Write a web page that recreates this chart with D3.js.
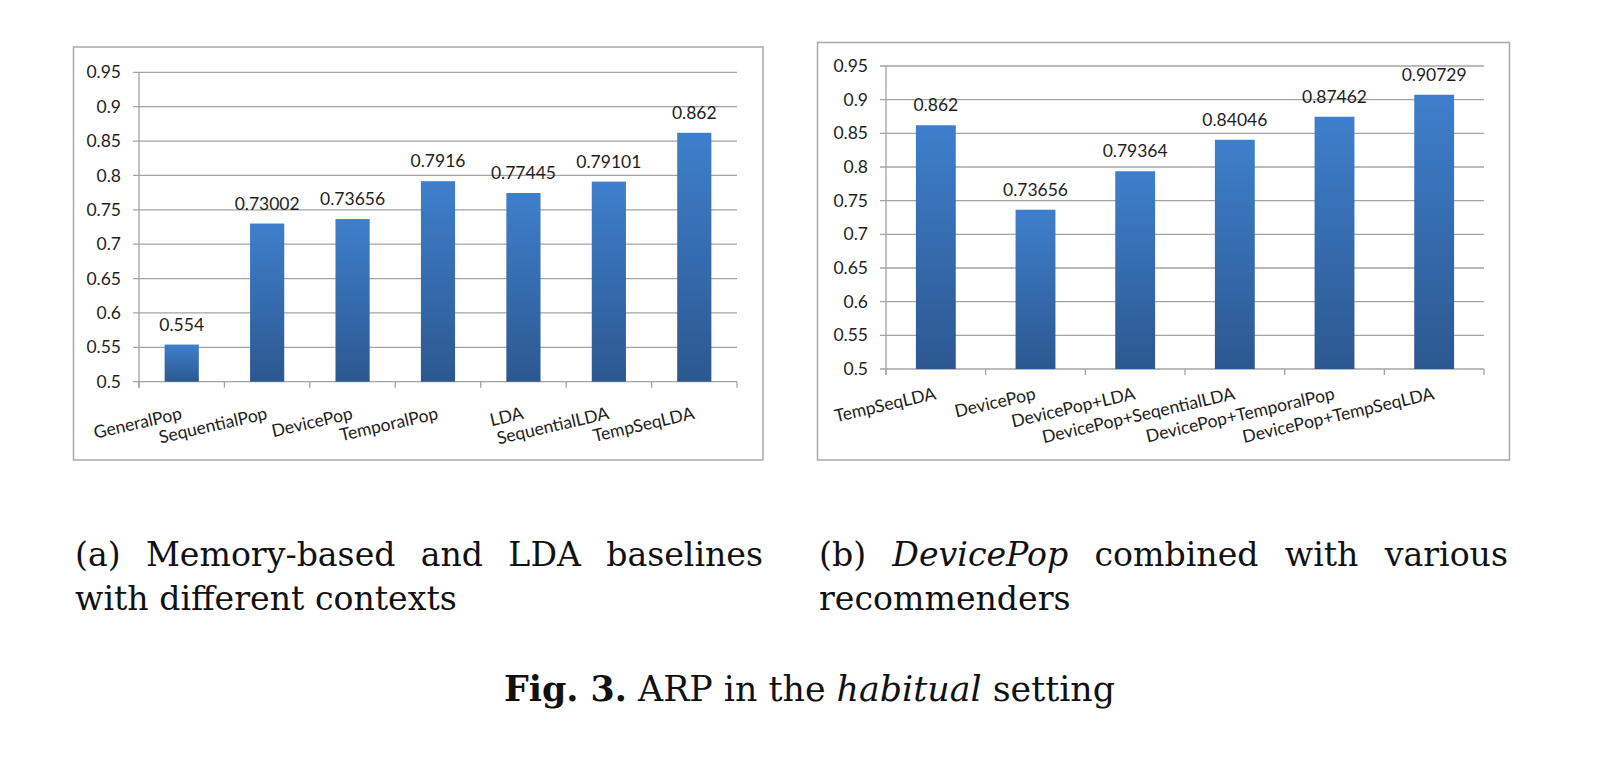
<!DOCTYPE html>
<html>
<head>
<meta charset="utf-8">
<script src="https://cdn.jsdelivr.net/npm/d3@7"></script>
<style>
  html, body { margin: 0; padding: 0; background: #ffffff; }
  svg { display: block; }
</style>
</head>
<body>
<svg id="chart" width="1600" height="757"></svg>
<script>
// ---------------- data ----------------
const categoriesA = ["GeneralPop", "SequentialPop", "DevicePop", "TemporalPop", "LDA", "SequentialLDA", "TempSeqLDA"];
const valuesA = [0.554, 0.73002, 0.73656, 0.7916, 0.77445, 0.79101, 0.862];
const valueLabelsA = ["0.554", "0.73002", "0.73656", "0.7916", "0.77445", "0.79101", "0.862"];

const categoriesB = ["TempSeqLDA", "DevicePop", "DevicePop+LDA", "DevicePop+SeqentialLDA", "DevicePop+TemporalPop", "DevicePop+TempSeqLDA"];
const valuesB = [0.862, 0.73656, 0.79364, 0.84046, 0.87462, 0.90729];
const valueLabelsB = ["0.862", "0.73656", "0.79364", "0.84046", "0.87462", "0.90729"];

const yTickValues = [0.5, 0.55, 0.6, 0.65, 0.7, 0.75, 0.8, 0.85, 0.9, 0.95];
const yTickLabels = ["0.5", "0.55", "0.6", "0.65", "0.7", "0.75", "0.8", "0.85", "0.9", "0.95"];
const yDomain = [0.5, 0.95];

const captionA1 = [["(a)", "n"], ["Memory-based", "n"], ["and", "n"], ["LDA", "n"], ["baselines", "n"]];
const captionA2 = "with different contexts";
const captionB1 = [["(b)", "n"], ["DevicePop", "i"], ["combined", "n"], ["with", "n"], ["various", "n"]];
const captionB2 = "recommenders";
const figCaption = [["Fig. 3.", "b"], [" ARP in the ", "n"], ["habitual", "i"], [" setting", "n"]];

// ---------------- drawing ----------------
const svg = d3.select("#chart");
const defs = svg.append("defs");
const grad = defs.append("linearGradient")
  .attr("id", "barGrad").attr("x1", 0).attr("y1", 0).attr("x2", 0).attr("y2", 1);
grad.append("stop").attr("offset", "0%").attr("stop-color", "#3e7fcc");
grad.append("stop").attr("offset", "100%").attr("stop-color", "#2c5890");

const chartFont = "Lato, 'Open Sans', sans-serif";
const textColor = "#1e1e1e";
const gridColor = "#a3a3a3";

function drawChart(cfg) {
  const g = svg.append("g");
  // frame
  g.append("rect")
    .attr("x", cfg.frame[0]).attr("y", cfg.frame[1])
    .attr("width", cfg.frame[2] - cfg.frame[0]).attr("height", cfg.frame[3] - cfg.frame[1])
    .attr("fill", "#fff").attr("stroke", "#a9a9a9").attr("stroke-width", 1.5);

  const x = d3.scaleBand().domain(cfg.cats).range([cfg.x0, cfg.x1])
    .paddingInner(0.6).paddingOuter(0.3);
  const y = d3.scaleLinear().domain(yDomain).range([cfg.yb, cfg.yt]);
  const step = x.step();

  // gridlines
  g.append("g").selectAll("line").data(yTickValues).join("line")
    .attr("x1", cfg.x0 - 6).attr("x2", cfg.x1)
    .attr("y1", d => y(d)).attr("y2", d => y(d))
    .attr("stroke", gridColor).attr("stroke-width", 1.3);

  // y axis line
  g.append("line").attr("x1", cfg.x0).attr("x2", cfg.x0)
    .attr("y1", y(yDomain[1])).attr("y2", y(yDomain[0]) + 6)
    .attr("stroke", gridColor).attr("stroke-width", 1.3);

  // x ticks at band boundaries
  const bounds = d3.range(cfg.cats.length + 1).map(i => cfg.x0 + i * step);
  g.append("g").selectAll("line").data(bounds).join("line")
    .attr("x1", d => d).attr("x2", d => d)
    .attr("y1", y(yDomain[0])).attr("y2", y(yDomain[0]) + 6)
    .attr("stroke", gridColor).attr("stroke-width", 1.3);

  // y tick labels
  g.append("g").selectAll("text").data(yTickValues).join("text")
    .attr("x", cfg.x0 - 18).attr("y", d => y(d))
    .attr("dy", "0.35em")
    .attr("text-anchor", "end")
    .attr("font-family", chartFont).attr("font-size", 17.5)
    .attr("fill", textColor)
    .text((d, i) => yTickLabels[i]);

  // bars
  g.append("g").selectAll("rect").data(cfg.vals).join("rect")
    .attr("x", (d, i) => x(cfg.cats[i]))
    .attr("width", x.bandwidth())
    .attr("y", d => y(d))
    .attr("height", d => y(yDomain[0]) - y(d))
    .attr("fill", "url(#barGrad)");

  // value labels
  g.append("g").selectAll("text").data(cfg.vals).join("text")
    .attr("x", (d, i) => x(cfg.cats[i]) + x.bandwidth() / 2)
    .attr("y", d => y(d) - 14)
    .attr("text-anchor", "middle")
    .attr("font-family", chartFont).attr("font-size", 17.5)
    .attr("fill", textColor)
    .text((d, i) => cfg.labels[i]);

  // category labels (rotated)
  g.append("g").selectAll("text").data(cfg.cats).join("text")
    .attr("transform", d => {
      const cx = x(d) + x.bandwidth() / 2 + 1;
      const cy = y(yDomain[0]) + cfg.labOff;
      return `translate(${cx},${cy}) rotate(-13)`;
    })
    .attr("text-anchor", "end")
    .attr("font-family", chartFont).attr("font-size", 17.5)
    .attr("fill", textColor)
    .text(d => d);
}

drawChart({
  cats: categoriesA, vals: valuesA, labels: valueLabelsA,
  frame: [73.5, 47, 763, 460],
  x0: 139, x1: 737, yt: 72.3, yb: 381.7, labOff: 37
});
drawChart({
  cats: categoriesB, vals: valuesB, labels: valueLabelsB,
  frame: [817.5, 42.5, 1509.5, 460],
  x0: 886, x1: 1484, yt: 66, yb: 369, labOff: 30
});

// ---------------- captions ----------------
const serif = "'DejaVu Serif', 'Liberation Serif', serif";
function styleText(sel, st, fs) {
  sel.attr("font-family", serif).attr("font-size", fs).attr("fill", "#111");
  if (st === "i") sel.attr("font-style", "italic");
  if (st === "b") sel.attr("font-weight", "bold");
  return sel;
}

// fit font size to measured width of line 2 of caption (a)
const probe = svg.append("text").attr("font-family", serif).attr("font-size", 30).text(captionA2);
const natural = probe.node().getComputedTextLength();
probe.remove();
const capFS = 30 * (457 - 75) / natural;

function justified(words, xL, xR, baseline) {
  const nodes = words.map(([w, st]) => styleText(svg.append("text"), st, capFS).attr("y", baseline).text(w));
  const widths = nodes.map(n => n.node().getComputedTextLength());
  const total = d3.sum(widths);
  const gap = (xR - xL - total) / (words.length - 1);
  let cx = xL;
  nodes.forEach((n, i) => { n.attr("x", cx); cx += widths[i] + gap; });
}

justified(captionA1, 75, 763, 566);
styleText(svg.append("text"), "n", capFS).attr("x", 75).attr("y", 610).text(captionA2);
justified(captionB1, 819, 1508, 566);
styleText(svg.append("text"), "n", capFS).attr("x", 819).attr("y", 610).text(captionB2);

const fig = svg.append("text")
  .attr("x", 809.5).attr("y", 701).attr("text-anchor", "middle")
  .attr("font-family", serif).attr("font-size", capFS).attr("fill", "#111");
figCaption.forEach(([t, st]) => {
  const ts = fig.append("tspan").text(t).style("white-space", "pre");
  if (st === "i") ts.attr("font-style", "italic");
  if (st === "b") ts.attr("font-weight", "bold");
});
// widen figure caption to its measured span in the reference
const figW = fig.node().getComputedTextLength();
const figFS = Math.min(capFS * 1.08, capFS * 611 / figW);
fig.attr("font-size", figFS);
</script>
</body>
</html>
